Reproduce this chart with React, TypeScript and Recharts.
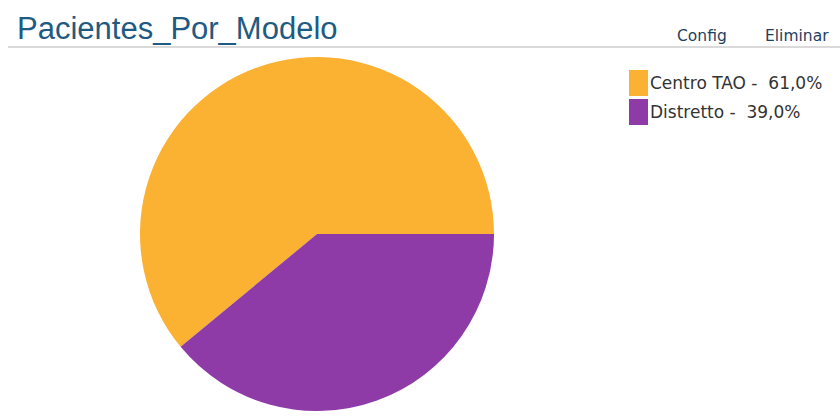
import React from "react";
import { PieChart, Pie, Cell, Legend } from "recharts";

const categories = ["Centro TAO", "Distretto"];
const values = [61, 39];
const colors = ["#FBB131", "#8E3BA8"];

const data = categories.map((name, i) => ({ name, value: values[i] }));
const total = values.reduce((a, b) => a + b, 0);

const fmt = (v: number) => ((v / total) * 100).toFixed(1).replace(".", ",") + "%";

const renderLegend = () => (
  <div style={{ fontFamily: "'DejaVu Sans', sans-serif", fontSize: 17, color: "#333" }}>
    {data.map((d, i) => (
      <div key={d.name} style={{ display: "flex", alignItems: "center", height: 29 }}>
        <div style={{ width: 19, height: 26, background: colors[i], marginRight: 2 }} />
        <span style={{ whiteSpace: "pre" }}>{`${d.name} -  ${fmt(d.value)}`}</span>
      </div>
    ))}
  </div>
);

export default function App() {
  return (
    <div style={{ position: "absolute", left: 0, top: 0, width: 840, height: 416, background: "#fff" }}>
      <div
        style={{
          position: "absolute",
          left: 17,
          top: 9,
          fontFamily: "'Liberation Sans', Arial, sans-serif",
          fontSize: 31,
          color: "#1F5A82",
          lineHeight: "40px",
        }}
      >
        Pacientes_Por_Modelo
      </div>
      <div
        style={{
          position: "absolute",
          left: 677,
          top: 26,
          fontFamily: "'DejaVu Sans', sans-serif",
          fontSize: 15.5,
          color: "#1F3F5F",
          lineHeight: "20px",
        }}
      >
        Config
      </div>
      <div
        style={{
          position: "absolute",
          left: 765,
          top: 26,
          fontFamily: "'DejaVu Sans', sans-serif",
          fontSize: 15.5,
          color: "#1F3F5F",
          lineHeight: "20px",
        }}
      >
        Eliminar
      </div>
      <div style={{ position: "absolute", left: 8, top: 46, width: 832, height: 2, background: "#DADADA" }} />
      <div style={{ position: "absolute", left: 0, top: 0 }}>
        <PieChart width={840} height={416} margin={{ top: 0, right: 0, bottom: 0, left: 0 }}>
          <Pie
            data={data}
            dataKey="value"
            nameKey="name"
            cx={317}
            cy={234}
            outerRadius={177}
            startAngle={0}
            endAngle={360}
            stroke="none"
            isAnimationActive={false}
          >
            {data.map((d, i) => (
              <Cell key={d.name} fill={colors[i]} />
            ))}
          </Pie>
          <Legend
            content={renderLegend}
            wrapperStyle={{ position: "absolute", left: 629, top: 68, width: "auto" }}
          />
        </PieChart>
      </div>
    </div>
  );
}
